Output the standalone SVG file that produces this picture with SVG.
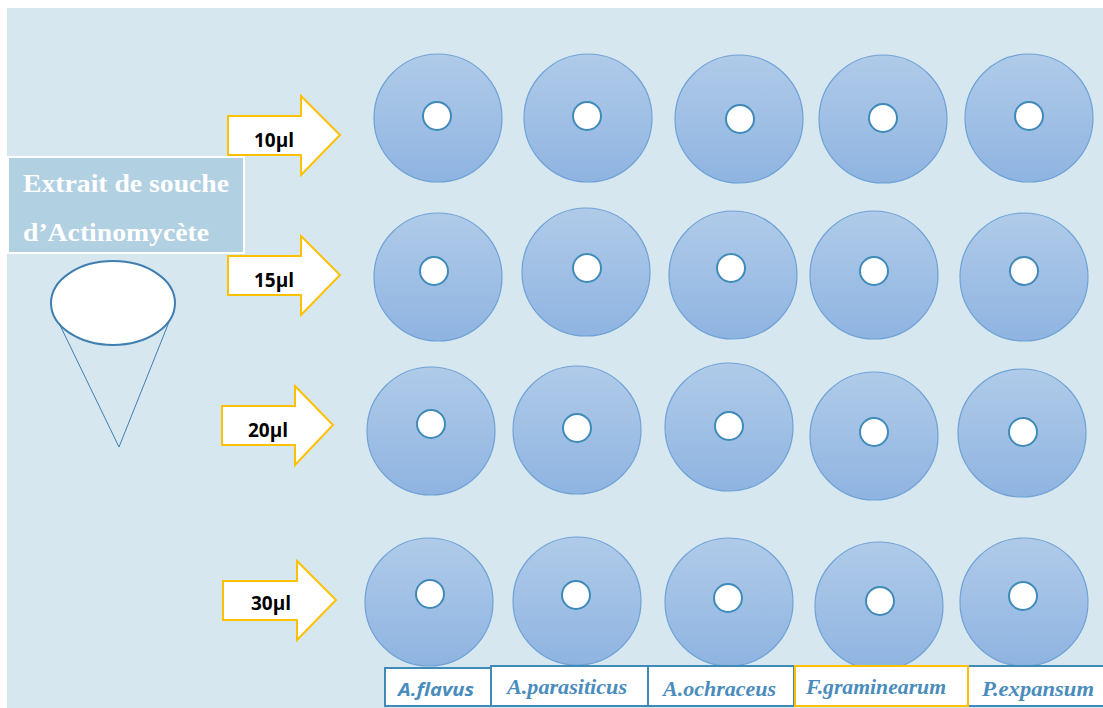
<svg xmlns="http://www.w3.org/2000/svg" width="1103" height="708" viewBox="0 0 1103 708">
<defs>
<linearGradient id="pg" x1="0" y1="0" x2="0" y2="1">
<stop offset="0" stop-color="#b0cbe9"/>
<stop offset="1" stop-color="#8fb4e1"/>
</linearGradient>
<style>
.plate{fill:url(#pg);stroke:#6fa2d6;stroke-width:1.2}
.well{fill:#fff;stroke:#3f8ab8;stroke-width:2}
.arrow{fill:#fff;stroke:#ffc000;stroke-width:2}
.vol{font-family:"Open Sans","Liberation Sans",sans-serif;font-weight:bold;font-size:19px;fill:#000;text-anchor:middle}
.lbl{fill:#fff;stroke:#3f8ab8;stroke-width:2}
.sp{font-family:"Liberation Serif",serif;font-weight:bold;font-style:italic;font-size:21px;fill:#4a8cbc}
.tt{font-family:"Liberation Serif",serif;font-weight:bold;font-size:25px;fill:#ffffff}
</style>
</defs>
<rect x="7" y="8" width="1096" height="700" fill="#d7e7f0"/>

<g id="title">
<rect x="8" y="157" width="236" height="96" fill="#b1d0e2" stroke="#ffffff" stroke-width="2"/>
<text class="tt" x="23" y="192" textLength="206" lengthAdjust="spacingAndGlyphs">Extrait de souche</text>
<text class="tt" x="23" y="241" textLength="186" lengthAdjust="spacingAndGlyphs">d’Actinomycète</text>
</g>

<g id="cone">
<polyline points="56,317 119,447 171,317" fill="none" stroke="#3f7fb0" stroke-width="1"/>
<ellipse cx="113" cy="303" rx="62" ry="42" fill="#fff" stroke="#3f7fb0" stroke-width="2"/>
</g>

<g id="arrows">
<g id="a10"><polygon class="arrow" points="228,116 301,116 301,96 340,135 301,175 301,155 228,155"/><text class="vol" x="274" y="147">10µl</text></g>
<g id="a15"><polygon class="arrow" points="228,256 301,256 301,236 340,275 301,315 301,295 228,295"/><text class="vol" x="274" y="287">15µl</text></g>
<g id="a20"><polygon class="arrow" points="222,406 295,406 295,386 333,425 295,465 295,445 222,445"/><text class="vol" x="268" y="437">20µl</text></g>
<g id="a30"><polygon class="arrow" points="223,581 297,581 297,561 336,600 297,640 297,620 223,620"/><text class="vol" x="271" y="610">30µl</text></g>
</g>

<g id="row10">
<g id="p1-1"><circle class="plate" cx="438" cy="118" r="64"/><circle class="well" cx="437" cy="116" r="14"/></g>
<g id="p1-2"><circle class="plate" cx="588" cy="118" r="64"/><circle class="well" cx="587" cy="116" r="14"/></g>
<g id="p1-3"><circle class="plate" cx="739" cy="119" r="64"/><circle class="well" cx="740" cy="119" r="14"/></g>
<g id="p1-4"><circle class="plate" cx="883" cy="119" r="64"/><circle class="well" cx="883" cy="118" r="14"/></g>
<g id="p1-5"><circle class="plate" cx="1029" cy="118" r="64"/><circle class="well" cx="1029" cy="116" r="14"/></g>
</g>

<g id="row15">
<g id="p2-1"><circle class="plate" cx="438" cy="277" r="64"/><circle class="well" cx="434" cy="271" r="14"/></g>
<g id="p2-2"><circle class="plate" cx="586" cy="272" r="64"/><circle class="well" cx="587" cy="268" r="14"/></g>
<g id="p2-3"><circle class="plate" cx="733" cy="275" r="64"/><circle class="well" cx="731" cy="268" r="14"/></g>
<g id="p2-4"><circle class="plate" cx="874" cy="275" r="64"/><circle class="well" cx="874" cy="271" r="14"/></g>
<g id="p2-5"><circle class="plate" cx="1024" cy="277" r="64"/><circle class="well" cx="1024" cy="271" r="14"/></g>
</g>

<g id="row20">
<g id="p3-1"><circle class="plate" cx="431" cy="431" r="64"/><circle class="well" cx="431" cy="424" r="14"/></g>
<g id="p3-2"><circle class="plate" cx="577" cy="430" r="64"/><circle class="well" cx="577" cy="428" r="14"/></g>
<g id="p3-3"><circle class="plate" cx="729" cy="427" r="64"/><circle class="well" cx="729" cy="426" r="14"/></g>
<g id="p3-4"><circle class="plate" cx="874" cy="436" r="64"/><circle class="well" cx="874" cy="432" r="14"/></g>
<g id="p3-5"><circle class="plate" cx="1022" cy="433" r="64"/><circle class="well" cx="1023" cy="432" r="14"/></g>
</g>

<g id="row30">
<g id="p4-1"><circle class="plate" cx="429" cy="602" r="64"/><circle class="well" cx="430" cy="594" r="14"/></g>
<g id="p4-2"><circle class="plate" cx="577" cy="601" r="64"/><circle class="well" cx="576" cy="595" r="14"/></g>
<g id="p4-3"><circle class="plate" cx="729" cy="602" r="64"/><circle class="well" cx="728" cy="598" r="14"/></g>
<g id="p4-4"><circle class="plate" cx="879" cy="606" r="64"/><circle class="well" cx="880" cy="601" r="14"/></g>
<g id="p4-5"><circle class="plate" cx="1024" cy="602" r="64"/><circle class="well" cx="1023" cy="596" r="14"/></g>
</g>

<g id="labels">
<g id="l1"><rect class="lbl" x="385" y="668" width="106" height="38"/><text x="398" y="696" font-family="Open Sans,Liberation Sans,sans-serif" font-weight="bold" font-style="italic" font-size="18" fill="#4a8cbc" textLength="76" lengthAdjust="spacingAndGlyphs">A.flavus</text></g>
<g id="l2"><rect class="lbl" x="491" y="666" width="157" height="40"/><text class="sp" x="507" y="694" textLength="120" lengthAdjust="spacingAndGlyphs">A.parasiticus</text></g>
<g id="l3"><rect class="lbl" x="648" y="666" width="146" height="40"/><text class="sp" x="663" y="696" textLength="113" lengthAdjust="spacingAndGlyphs">A.ochraceus</text></g>
<g id="l5"><rect class="lbl" x="968" y="666" width="140" height="40"/><text class="sp" x="982" y="696" textLength="112" lengthAdjust="spacingAndGlyphs">P.expansum</text></g>
<g id="l4"><rect x="795" y="666" width="173" height="40" fill="#fff" stroke="#ffc000" stroke-width="2"/><text class="sp" x="806" y="694" textLength="140" lengthAdjust="spacingAndGlyphs">F.graminearum</text></g>
</g>
</svg>
